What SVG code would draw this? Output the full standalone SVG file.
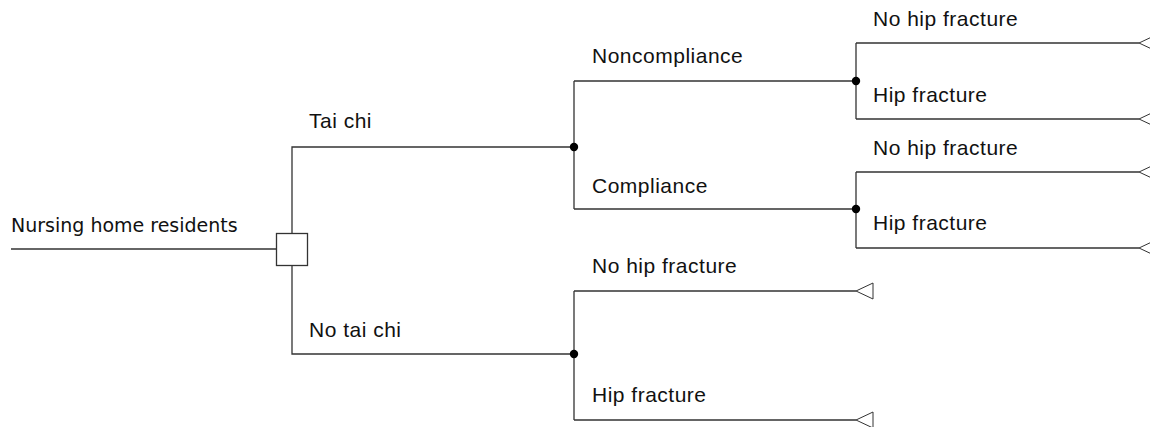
<svg xmlns="http://www.w3.org/2000/svg" width="1150" height="427" viewBox="0 0 1150 427">
<style>
.ln{fill:none;stroke:#333;stroke-width:1.3}
.t{font-family:"Liberation Sans",Arial,sans-serif;font-size:21px;letter-spacing:0.5px;fill:#111}
.t0{font-family:"DejaVu Sans",Tahoma,sans-serif;font-size:19px;fill:#111}
.dot{fill:#000}
.tri{fill:#fff;stroke:#333;stroke-width:1}
</style>
<rect width="1150" height="427" fill="#fff"/>
<g id="connectors">
<path class="ln" d="M11,249H276"/>
<path class="ln" d="M292,233V147H574M292,265V354H574"/>
<path class="ln" d="M574,81V209M574,81H856M574,209H856"/>
<path class="ln" d="M856,43V119M856,43H1139M856,119H1139"/>
<path class="ln" d="M856,172V248M856,172H1139M856,248H1139"/>
<path class="ln" d="M574,291V420M574,291H856M574,420H856"/>
</g>
<g id="root"><rect x="276.5" y="233.5" width="31" height="32" fill="#fff" stroke="#333" stroke-width="1.3"/><text class="t0" x="11" y="232">Nursing home residents</text></g>
<g id="chance1"><circle class="dot" cx="574" cy="147" r="4.2"/><text class="t" x="309" y="128">Tai chi</text></g>
<g id="chance2"><circle class="dot" cx="856" cy="81" r="4.2"/><text class="t" x="592" y="63">Noncompliance</text></g>
<g id="chance3"><circle class="dot" cx="856" cy="209" r="4.2"/><text class="t" x="592" y="193">Compliance</text></g>
<g id="chance4"><circle class="dot" cx="574" cy="354" r="4.2"/><text class="t" x="309" y="337">No tai chi</text></g>
<g id="term1"><polygon class="tri" points="1139,43 1156,35 1156,51"/><text class="t" x="873" y="26">No hip fracture</text></g>
<g id="term2"><polygon class="tri" points="1139,119 1156,111 1156,127"/><text class="t" x="873" y="102">Hip fracture</text></g>
<g id="term3"><polygon class="tri" points="1139,172 1156,164 1156,180"/><text class="t" x="873" y="155">No hip fracture</text></g>
<g id="term4"><polygon class="tri" points="1139,248 1156,240 1156,256"/><text class="t" x="873" y="230">Hip fracture</text></g>
<g id="term5"><polygon class="tri" points="856,291 873,283 873,299"/><text class="t" x="592" y="273">No hip fracture</text></g>
<g id="term6"><polygon class="tri" points="856,420 873,412 873,428"/><text class="t" x="592" y="402">Hip fracture</text></g>
</svg>
